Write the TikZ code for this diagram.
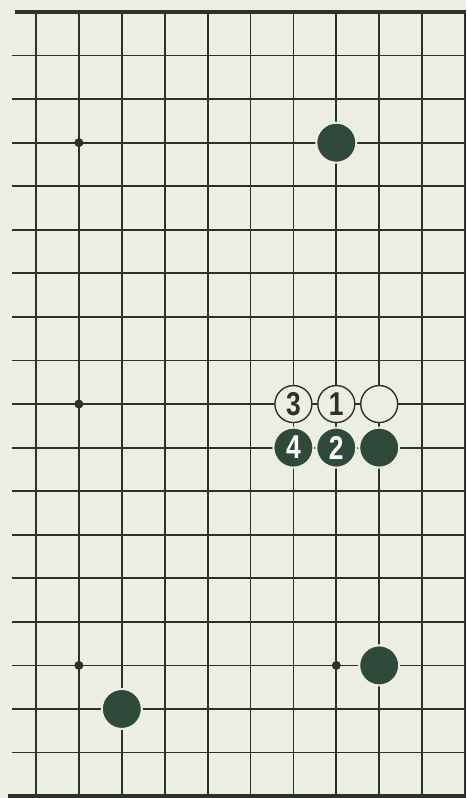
\documentclass[tikz,border=0pt]{standalone}
\usepackage{fontspec}
\newfontfamily\numfont{Liberation Sans}[FakeStretch=0.8]
\definecolor{bg}{HTML}{EDEEE2}
\definecolor{ink}{HTML}{2B3329}
\definecolor{stone}{HTML}{2F4A3A}
\begin{document}
\begin{tikzpicture}[x=1pt,y=-1pt,
  bstone/.style={circle,fill=stone,draw=bg,line width=2pt,minimum size=40pt,inner sep=0pt,
    text=white,font=\numfont\bfseries\fontsize{33}{33}\selectfont},
  wstone/.style={circle,fill=bg,draw=ink,line width=1.4pt,minimum size=37pt,inner sep=0pt,
    text=ink,font=\numfont\bfseries\fontsize{33}{33}\selectfont},
  star/.style={circle,fill=ink,inner sep=0pt,minimum size=9pt},
  grid/.style={draw=ink,line width=1.8pt},
  edge/.style={draw=ink,line width=3.8pt}]
\def\cx#1{36+42.9*#1}
\def\ry#1{12+43.56*#1}
\fill[bg] (0,0) rectangle (466,798);
\useasboundingbox (0,0) rectangle (466,798);
% horizontal lines
\foreach \j in {1,...,17} {
  \draw[grid] (12,{\ry{\j}}) -- (466,{\ry{\j}});
}
% vertical lines
\foreach \i in {0,...,10} {
  \draw[grid] ({\cx{\i}},12) -- ({\cx{\i}},796);
}
% edges
\draw[edge] (15,12) -- (466,12);
\draw[edge] (8,796) -- (466,796);
% star points
\node[star] (h1) at ({\cx{1}},{\ry{3}}) {};
\node[star] (h2) at ({\cx{1}},{\ry{9}}) {};
\node[star] (h3) at ({\cx{1}},{\ry{15}}) {};
\node[star] (h4) at ({\cx{7}},{\ry{15}}) {};
% stones
\node[bstone] (b1) at ({\cx{7}},{\ry{3}}) {};
\node[wstone] (w3) at ({\cx{6}},{\ry{9}}) {3};
\node[wstone] (w1) at ({\cx{7}},{\ry{9}}) {1};
\node[wstone] (w0) at ({\cx{8}},{\ry{9}}) {};
\node[bstone] (b4) at ({\cx{6}},{\ry{10}}) {4};
\node[bstone] (b2) at ({\cx{7}},{\ry{10}}) {2};
\node[bstone] (b0) at ({\cx{8}},{\ry{10}}) {};
\node[bstone] (b5) at ({\cx{8}},{\ry{15}}) {};
\node[bstone] (b6) at ({\cx{2}},{\ry{16}}) {};
\end{tikzpicture}
\end{document}
